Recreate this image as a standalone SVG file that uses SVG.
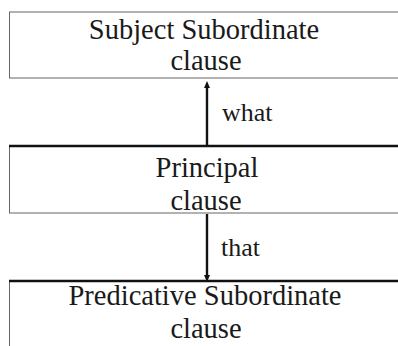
<svg xmlns="http://www.w3.org/2000/svg" width="398" height="346" viewBox="0 0 398 346">
<style>
.box{fill:#fff;stroke:#666;stroke-width:1}
.thick{stroke:#111;stroke-width:2.5}
text{font-family:'Liberation Serif','Times New Roman','DejaVu Serif',serif;fill:#1a1a1a}
.t{font-size:28.5px;text-anchor:middle}
.l{font-size:26px}
.c{stroke:#111;stroke-width:2.4;fill:none}
</style>
<defs>
<marker id="ah" markerWidth="8" markerHeight="8" refX="2" refY="4" orient="auto" markerUnits="userSpaceOnUse">
<path d="M0,1 L7,4 L0,7 Z" fill="#111"/>
</marker>
</defs>
<rect width="398" height="346" fill="#fff"/>
<g id="subject">
<rect class="box" x="9.5" y="12" width="392" height="66"/>
<text class="t" x="204" y="39" font-family="Liberation Serif, serif">Subject Subordinate</text>
<text class="t" x="206" y="70" font-family="Liberation Serif, serif">clause</text>
</g>
<g id="principal">
<rect class="box" x="9.5" y="146.5" width="392" height="66.5"/>
<line class="thick" x1="9" y1="146" x2="398" y2="146"/>
<text class="t" x="207" y="177" font-family="Liberation Serif, serif">Principal</text>
<text class="t" x="206" y="210" font-family="Liberation Serif, serif">clause</text>
</g>
<g id="predicative">
<rect class="box" x="9.5" y="281" width="392" height="70"/>
<line class="thick" x1="9" y1="281" x2="398" y2="281"/>
<text class="t" x="205" y="305" font-family="Liberation Serif, serif">Predicative Subordinate</text>
<text class="t" x="206" y="338" font-family="Liberation Serif, serif">clause</text>
</g>
<g id="connectors">
<line class="c" x1="207" y1="145" x2="207" y2="86" marker-end="url(#ah)"/>
<text class="l" x="222" y="121" font-family="Liberation Serif, serif">what</text>
<line class="c" x1="207" y1="214" x2="207" y2="277" marker-end="url(#ah)"/>
<text class="l" x="221" y="256" font-family="Liberation Serif, serif">that</text>
</g>
</svg>
